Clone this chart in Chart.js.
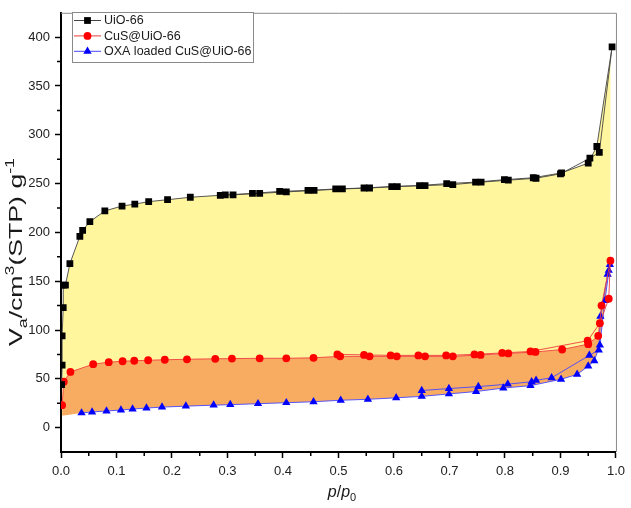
<!DOCTYPE html>
<html>
<head>
<meta charset="utf-8">
<script src="https://cdn.jsdelivr.net/npm/chart.js@4.4.0/dist/chart.umd.min.js"></script>
<style>
  html, body { margin: 0; padding: 0; background: #fff; }
</style>
</head>
<body>
<canvas id="iso" width="631" height="508"></canvas>
<script>
// relative pressure p/p0 and adsorbed volume (cm3 STP / g)
const uioAdsP = [0.001, 0.002, 0.002, 0.004, 0.004, 0.008, 0.016, 0.034, 0.039, 0.052, 0.079, 0.11, 0.133, 0.158, 0.192, 0.233, 0.287, 0.345, 0.394, 0.445, 0.495, 0.546, 0.596, 0.646, 0.695, 0.747, 0.799, 0.851, 0.902, 0.95, 0.9655, 0.993];
const uioAdsV = [44, 64, 94, 123, 146, 146, 168, 196, 202, 211, 222, 227, 229, 231.5, 233.5, 236, 238, 240, 242, 243, 244.5, 245.5, 247, 248, 250, 251.5, 254, 256, 261, 271, 288, 390];
const uioDesP = [0.97, 0.953, 0.9, 0.856, 0.806, 0.757, 0.706, 0.656, 0.606, 0.556, 0.507, 0.456, 0.406, 0.358, 0.31, 0.296];
const uioDesV = [282, 276, 260, 255.5, 253.5, 251.5, 249, 248, 247, 245.5, 244.5, 243, 241.5, 240, 238.5, 238.5];

const cusAdsP = [0.002, 0.005, 0.017, 0.058, 0.086, 0.111, 0.132, 0.157, 0.187, 0.227, 0.278, 0.308, 0.358, 0.406, 0.455, 0.503, 0.556, 0.605, 0.656, 0.706, 0.756, 0.806, 0.855, 0.903, 0.95, 0.968, 0.974, 0.99];
const cusAdsV = [23, 47, 57, 65, 67, 68, 68.5, 69, 69.5, 70, 70.5, 70.7, 71, 71, 71.5, 73, 73, 73, 73, 73, 74.5, 76, 77.5, 80, 85.5, 94, 125, 171];
const cusDesP = [0.987, 0.971, 0.949, 0.846, 0.795, 0.745, 0.694, 0.644, 0.594, 0.546, 0.498];
const cusDesV = [132, 107, 89, 78, 76.5, 75, 74, 74, 74, 74.5, 75];

const oxaAdsP = [0.037, 0.056, 0.082, 0.108, 0.129, 0.154, 0.182, 0.225, 0.275, 0.305, 0.355, 0.406, 0.455, 0.504, 0.553, 0.604, 0.65, 0.699, 0.748, 0.797, 0.846, 0.901, 0.93, 0.95, 0.961, 0.971, 0.98, 0.989];
const oxaAdsV = [15, 16, 17, 18, 19, 20, 21, 22, 23, 23.5, 24.5, 25.5, 26.5, 28, 29, 30.5, 32, 34.5, 37, 40.5, 43, 49.5, 54.5, 63, 68.5, 84.5, 130, 167];
const oxaDesP = [0.987, 0.985, 0.972, 0.969, 0.952, 0.884, 0.856, 0.848, 0.805, 0.752, 0.699, 0.65];
const oxaDesV = [161, 157, 114, 79.5, 74, 51, 48.5, 47, 44.5, 42, 40, 38];
// lower edge of the orange band starts at the y axis
const oxaFillStartP = [0];
const oxaFillStartV = [12];

const seriesNames = ['UiO-66', 'CuS@UiO-66', 'OXA loaded CuS@UiO-66'];
const xTicks = [0, 0.1, 0.2, 0.3, 0.4, 0.5, 0.6, 0.7, 0.8, 0.9, 1.0];
const xMinorTicks = [0.05, 0.15, 0.25, 0.35, 0.45, 0.55, 0.65, 0.75, 0.85, 0.95];
const yTicks = [0, 50, 100, 150, 200, 250, 300, 350, 400];
const yMinorTicks = [25, 75, 125, 175, 225, 275, 325, 375];

const FONT = '"Liberation Sans", Arial, sans-serif';

function pts(px, vy) {
    return px.map((p, i) => ({ x: p, y: vy[i] }));
}

const loopUio = pts(uioAdsP, uioAdsV).concat(pts(uioDesP, uioDesV));
const loopCus = pts(cusAdsP, cusAdsV).concat(pts(cusDesP, cusDesV));
const loopOxa = pts(oxaAdsP, oxaAdsV).concat(pts(oxaDesP, oxaDesV));

const looks = [
    { line: '#444444', mark: '#000000', style: 'rect', r: 4.8 },
    { line: '#f03c3c', mark: '#ff0000', style: 'circle', r: 3.9 },
    { line: '#4646ff', mark: '#0000ff', style: 'triangle', r: 4.8 }
];

function seriesSet(label, data, look) {
    return {
        label: label,
        data: data,
        showLine: true,
        borderColor: look.line,
        borderWidth: 0.9,
        pointStyle: look.style,
        pointRadius: look.r,
        pointBackgroundColor: look.mark,
        pointBorderColor: look.mark,
        pointBorderWidth: 0,
        fill: false,
        order: 0
    };
}

function fillSet(data, target, color) {
    return {
        label: '',
        data: data,
        showLine: true,
        borderWidth: 0,
        pointRadius: 0,
        backgroundColor: color,
        fill: target,
        order: 5
    };
}

// axis frame, minor ticks, legend and axis titles
const decorations = {
    id: 'decorations',
    afterDraw(chart) {
        const ctx = chart.ctx;
        const a = chart.chartArea;
        const xs = chart.scales.x, ys = chart.scales.y;
        ctx.save();

        // top and right frame
        ctx.strokeStyle = '#8a8a8a';
        ctx.lineWidth = 1;
        ctx.beginPath();
        ctx.moveTo(a.left, a.top + 0.5);
        ctx.lineTo(a.right + 0.5, a.top + 0.5);
        ctx.lineTo(a.right + 0.5, a.bottom);
        ctx.stroke();

        // minor ticks
        ctx.strokeStyle = '#000';
        ctx.lineWidth = 1.5;
        ctx.beginPath();
        xMinorTicks.forEach(v => {
            const px = xs.getPixelForValue(v);
            ctx.moveTo(px, a.bottom);
            ctx.lineTo(px, a.bottom + 4);
        });
        yMinorTicks.forEach(v => {
            const py = ys.getPixelForValue(v);
            ctx.moveTo(a.left, py);
            ctx.lineTo(a.left - 4, py);
        });
        ctx.stroke();

        // legend
        const lx = 72, ly = 12, lw = 181, lh = 50;
        ctx.fillStyle = '#fff';
        ctx.fillRect(lx, ly, lw, lh);
        ctx.strokeStyle = '#8a8a8a';
        ctx.lineWidth = 1;
        ctx.strokeRect(lx + 0.5, ly + 0.5, lw, lh);
        ctx.font = '12.5px ' + FONT;
        ctx.textBaseline = 'middle';
        ctx.textAlign = 'left';
        seriesNames.forEach((name, i) => {
            const y = 20.5 + i * 15.4;
            const lk = looks[i];
            ctx.strokeStyle = lk.line;
            ctx.lineWidth = 1;
            ctx.beginPath();
            ctx.moveTo(74, y);
            ctx.lineTo(101, y);
            ctx.stroke();
            ctx.fillStyle = lk.mark;
            Chart.helpers.drawPoint(ctx, { pointStyle: lk.style, radius: lk.r, borderWidth: 0 }, 87.5, y);
            ctx.fillStyle = '#1a1a1a';
            ctx.fillText(name, 104, y + 0.5);
        });

        // y title: Va/cm3(STP) g-1, stretched along its length like the original
        const yParts = [
            ['V', 18, 0], ['a', 12, 5], ['/cm', 18, 0], ['3', 12, -8],
            ['(STP) g', 18, 0], ['-1', 12, -8]
        ];
        ctx.fillStyle = '#1a1a1a';
        ctx.textBaseline = 'alphabetic';
        let natural = 0;
        yParts.forEach(([t, size]) => { ctx.font = size + 'px ' + FONT; natural += ctx.measureText(t).width; });
        ctx.translate(21.5, 346);
        ctx.rotate(-Math.PI / 2);
        ctx.scale(188 / natural, 1);
        let cx = 0;
        yParts.forEach(([t, size, dy]) => {
            ctx.font = size + 'px ' + FONT;
            ctx.fillText(t, cx, dy);
            cx += ctx.measureText(t).width;
        });
        ctx.setTransform(1, 0, 0, 1, 0, 0);

        // x title: p/p0
        const xParts = [
            ['p', 'italic 16px ', 0], ['/', '16px ', 0], ['p', 'italic 16px ', 0], ['0', '11px ', 4]
        ];
        let tw = 0;
        xParts.forEach(([t, f]) => { ctx.font = f + FONT; tw += ctx.measureText(t).width; });
        let tx = 342 - tw / 2;
        xParts.forEach(([t, f, dy]) => {
            ctx.font = f + FONT;
            ctx.fillText(t, tx, 497 + dy);
            tx += ctx.measureText(t).width;
        });
        ctx.restore();
    }
};

const ctx = document.getElementById('iso').getContext('2d');
new Chart(ctx, {
    type: 'scatter',
    data: {
        datasets: [
            seriesSet(seriesNames[0], loopUio, looks[0]),
            seriesSet(seriesNames[1], loopCus, looks[1]),
            seriesSet(seriesNames[2], loopOxa, looks[2]),
            fillSet(pts(uioAdsP, uioAdsV), 4, 'rgb(255, 246, 158)'),
            fillSet(pts(cusAdsP, cusAdsV), 5, 'rgb(248, 172, 98)'),
            fillSet(pts(oxaFillStartP, oxaFillStartV).concat(pts(oxaAdsP, oxaAdsV)), false, 'rgba(0,0,0,0)')
        ]
    },
    options: {
        responsive: false,
        animation: false,
        devicePixelRatio: 1,
        layout: { padding: { left: 0, top: 2, right: 10, bottom: 0 } },
        plugins: {
            legend: { display: false },
            tooltip: { enabled: false }
        },
        scales: {
            x: {
                type: 'linear',
                min: 0,
                max: 1,
                afterBuildTicks: s => { s.ticks = xTicks.map(v => ({ value: v })); },
                afterFit: s => { s.height = 56; },
                ticks: {
                    font: { family: FONT, size: 13 },
                    color: '#222',
                    padding: 6,
                    maxRotation: 0,
                    autoSkip: false,
                    callback: v => v.toFixed(1)
                },
                grid: { drawOnChartArea: false, tickLength: 6, tickColor: '#000', tickWidth: 1.5 },
                border: { color: '#000', width: 2 }
            },
            y: {
                type: 'linear',
                min: -25,
                max: 425,
                afterBuildTicks: s => { s.ticks = yTicks.map(v => ({ value: v })); },
                afterFit: s => { s.width = 61; },
                ticks: {
                    font: { family: FONT, size: 13 },
                    color: '#222',
                    padding: 5,
                    autoSkip: false,
                    callback: v => String(v)
                },
                grid: { drawOnChartArea: false, tickLength: 6, tickColor: '#000', tickWidth: 1.5 },
                border: { color: '#000', width: 2 }
            }
        }
    },
    plugins: [decorations]
});
</script>
</body>
</html>
